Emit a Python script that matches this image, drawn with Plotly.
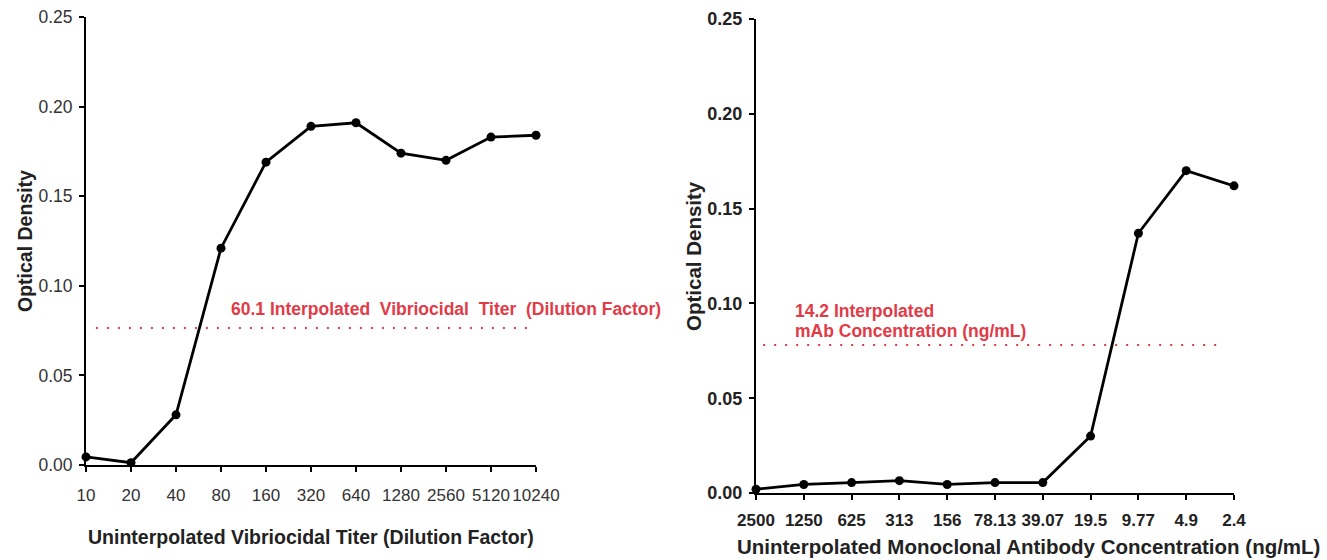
import plotly.graph_objects as go

# ---- data ----
left_titers = ["10", "20", "40", "80", "160", "320", "640", "1280", "2560", "5120", "10240"]
left_od = [0.0045, 0.0013, 0.028, 0.121, 0.169, 0.189, 0.191, 0.174, 0.170, 0.183, 0.184]
left_threshold = 0.0765

right_conc = ["2500", "1250", "625", "313", "156", "78.13", "39.07", "19.5", "9.77", "4.9", "2.4"]
right_od = [0.002, 0.0045, 0.0055, 0.0065, 0.0045, 0.0055, 0.0055, 0.030, 0.137, 0.170, 0.162]
right_threshold = 0.078

y_ticks = [0.0, 0.05, 0.10, 0.15, 0.20, 0.25]

W, H = 1327, 560
FONT = "Arial, Liberation Sans, sans-serif"
RED = "#e23b47"

def px_x(p):
    return p / W

def px_y(p):
    return (H - p) / H

fig = go.Figure()
fig.add_trace(go.Scatter(
    x=left_titers, y=left_od, mode="lines+markers",
    line=dict(color="black", width=2.8),
    marker=dict(color="black", size=9),
    cliponaxis=False, xaxis="x", yaxis="y", showlegend=False))
fig.add_trace(go.Scatter(
    x=right_conc, y=right_od, mode="lines+markers",
    line=dict(color="black", width=2.8),
    marker=dict(color="black", size=9),
    cliponaxis=False, xaxis="x2", yaxis="y2", showlegend=False))

axis_common = dict(showline=True, linecolor="black", linewidth=2, ticks="outside",
                   ticklen=5, tickwidth=2, tickcolor="black", showgrid=False,
                   zeroline=False, automargin=False)

fig.update_layout(
    width=W, height=H,
    margin=dict(l=0, r=0, t=0, b=0),
    paper_bgcolor="white", plot_bgcolor="white",
    font=dict(family=FONT, color="#222"),
    xaxis=dict(domain=[px_x(86), px_x(536)], type="category", range=[0, 10],
               anchor="y", ticklabelstandoff=9,
               tickfont=dict(size=17, color="#333"), **axis_common),
    yaxis=dict(domain=[px_y(465), px_y(17)], range=[0, 0.25], tickvals=y_ticks,
               tickformat=".2f", anchor="x", ticklabelstandoff=3,
               tickfont=dict(size=17.5, color="#333"), **axis_common),
    xaxis2=dict(domain=[px_x(756), px_x(1234)], type="category", range=[0, 10],
                anchor="y2", ticklabelstandoff=6,
                tickfont=dict(size=17, color="#222", weight="bold"), **axis_common),
    yaxis2=dict(domain=[px_y(493), px_y(19)], range=[0, 0.25], tickvals=y_ticks,
                tickformat=".2f", anchor="x2", ticklabelstandoff=3,
                tickfont=dict(size=18, color="#222", weight="bold"), **axis_common),
)

fig.add_shape(type="line", xref="x domain", yref="y", x0=0.022, x1=0.99,
              y0=left_threshold, y1=left_threshold,
              line=dict(color=RED, width=2, dash="2px,9px"))
fig.add_shape(type="line", xref="x2 domain", yref="y2", x0=0.015, x1=0.98,
              y0=right_threshold, y1=right_threshold,
              line=dict(color=RED, width=2, dash="2px,9px"))

ann = []
ann.append(dict(text="60.1 Interpolated  Vibriocidal  Titer  (Dilution Factor)",
                x=px_x(229), y=px_y(309), xanchor="left", yanchor="middle",
                font=dict(size=17.5, color=RED, weight="bold")))
ann.append(dict(text="14.2 Interpolated",
                x=px_x(793), y=px_y(311), xanchor="left", yanchor="middle",
                font=dict(size=17.5, color=RED, weight="bold")))
ann.append(dict(text="mAb Concentration (ng/mL)",
                x=px_x(793), y=px_y(331), xanchor="left", yanchor="middle",
                font=dict(size=17.5, color=RED, weight="bold")))
ann.append(dict(text="Uninterpolated Vibriocidal Titer (Dilution Factor)",
                x=px_x(311), y=px_y(537), xanchor="center", yanchor="middle",
                font=dict(size=19.5, color="#222", weight="bold")))
ann.append(dict(text="Uninterpolated Monoclonal Antibody Concentration (ng/mL)",
                x=px_x(1028), y=px_y(546), xanchor="center", yanchor="middle",
                font=dict(size=20.5, color="#222", weight="bold")))
ann.append(dict(text="Optical Density", textangle=-90,
                x=px_x(25), y=px_y(241), xanchor="center", yanchor="middle",
                font=dict(size=19.5, color="#222", weight="bold")))
ann.append(dict(text="Optical Density", textangle=-90,
                x=px_x(693), y=px_y(256), xanchor="center", yanchor="middle",
                font=dict(size=20.5, color="#222", weight="bold")))
for a in ann:
    a.update(xref="paper", yref="paper", showarrow=False)
fig.update_layout(annotations=ann)

fig.write_html("out.html")
